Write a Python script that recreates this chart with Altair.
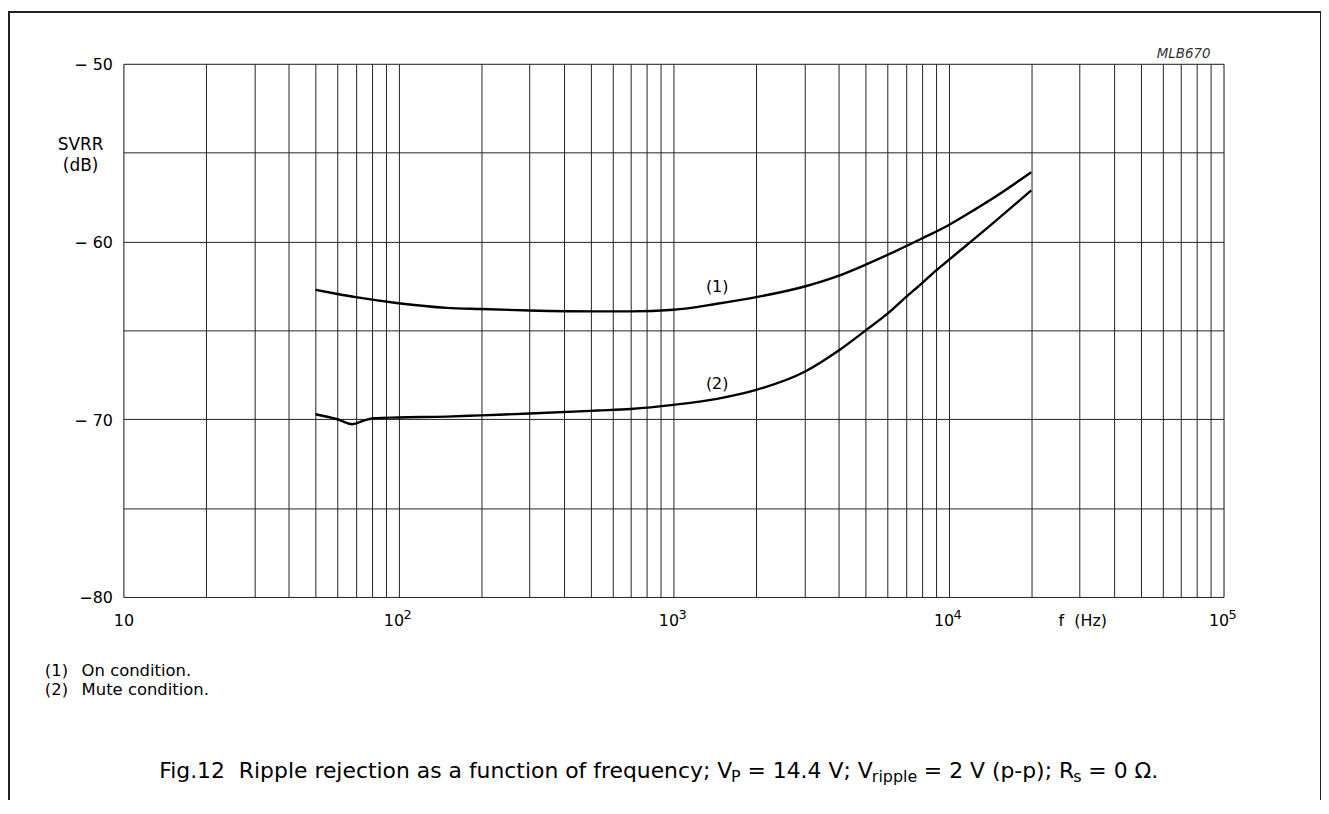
import altair as alt
import pandas as pd

# ---------------- data ----------------
freq_on = [50, 60, 70, 100, 150, 200, 300, 527, 700, 1000, 1440, 2000, 3000, 4000,
           5000, 6400, 8000, 10000, 12500, 14130, 20000]
svrr_on = [-62.72, -62.95, -63.13, -63.47, -63.73, -63.80, -63.88, -63.93, -63.93, -63.84,
           -63.50, -63.13, -62.53, -61.92, -61.30, -60.55, -59.83, -59.08, -58.19, -57.68, -56.10]

freq_mute = [50, 60, 68, 75, 82, 100, 150, 200, 300, 527, 700, 1000, 1440, 2000, 3000,
             4000, 5000, 6000, 7000, 8000, 9000, 10000, 14130, 20000]
svrr_mute = [-69.72, -70.00, -70.28, -70.07, -69.94, -69.90, -69.85, -69.78, -69.68, -69.51,
             -69.42, -69.19, -68.85, -68.35, -67.33, -66.12, -65.00, -64.06, -63.13, -62.35,
             -61.64, -61.05, -59.12, -57.12]

curve_label_text = ["(1)", "(2)"]
curve_label_f = [1442, 1442]
curve_label_db = [-62.57, -67.99]

x_grid_values = [m * 10 ** e for e in range(1, 5) for m in range(1, 10)] + [100000]
x_tick_labels = {10: "10", 100: "10", 1000: "10", 10000: "10", 100000: "10"}
x_exp_f = [100, 1000, 10000, 100000]
x_exp_text = ["2", "3", "4", "5"]
y_grid_values = [-80, -75, -70, -65, -60, -55, -50]
y_tick_labels = {-50: "\u2212 50", -60: "\u2212 60", -70: "\u2212 70", -80: "\u221280"}

legend_lines = [("(1)", "On condition."), ("(2)", "Mute condition.")]
caption_parts = [
    ("Fig.12  Ripple rejection as a function of frequency; V", "main"),
    ("P", "sub"),
    (" = 14.4 V; V", "main"),
    ("ripple", "sub"),
    (" = 2 V (p-p); R", "main"),
    ("s", "sub"),
    (" = 0 \u03a9.", "main"),
]

# ---------------- layout ----------------
FONT = "DejaVu Sans"
W, H = 1106, 536
PAD = {"left": 116, "top": 54, "right": 98, "bottom": 202}

# approximate DejaVu Sans advance widths (em) for caption layout
DJV = {" ": .318, "\u00a0": .318, "(": .390, ")": .390, "-": .361, ".": .318, ";": .337,
       "=": .838, "F": .575, "P": .603, "R": .695, "V": .684, "a": .613, "c": .550,
       "e": .615, "f": .352, "g": .635, "i": .278, "j": .278, "l": .278, "n": .634,
       "o": .612, "p": .635, "q": .635, "r": .411, "s": .521, "t": .392, "u": .634,
       "y": .592, "\u03a9": .765}
for d in "0123456789":
    DJV[d] = .636


def tw(s, size):
    return sum(DJV.get(c, 0.6) for c in s) * size * 0.993


def nb(s):
    return s.replace(" ", "\u00a0")


one = alt.Data(values=[{"k": 1}])


def label(text, x, y, size=16, align="left", baseline="alphabetic", style="normal", color="black"):
    return alt.Chart(one).mark_text(
        text=text, font=FONT, fontSize=size, align=align, baseline=baseline,
        fontStyle=style, color=color
    ).encode(x=alt.value(x), y=alt.value(y))


def expr_from(d):
    parts = [f"datum.value == {k} ? '{v}'" for k, v in d.items()]
    return " : ".join(parts) + " : ''"


df = pd.concat([
    pd.DataFrame({"f": freq_on, "db": svrr_on, "series": "on"}),
    pd.DataFrame({"f": freq_mute, "db": svrr_mute, "series": "mute"}),
])
lab_df = pd.DataFrame({"f": curve_label_f, "db": curve_label_db, "txt": curve_label_text})
exp_df = pd.DataFrame({"f": x_exp_f, "txt": x_exp_text})

X_ENC = alt.X(
    "f:Q",
    scale=alt.Scale(type="log", domain=[10, 100000], nice=False),
    axis=alt.Axis(
        values=x_grid_values, labelExpr=expr_from(x_tick_labels), grid=True,
        gridColor="#222", gridWidth=1, ticks=False, tickSize=0, domain=False,
        labelFont=FONT, labelFontSize=16, labelColor="black", labelPadding=29,
        labelBaseline="alphabetic", labelFlush=False, labelOverlap=False,
        labelOffset={"condition": {"test": "datum.value <= 10", "value": 0}, "value": -5},
        title="f\u00a0\u00a0(Hz)", titleX=964, titleY=29, titleBaseline="alphabetic",
        titleAlign="center", titleFont=FONT, titleFontSize=16, titleFontWeight="normal",
        titleColor="black",
    ),
)
Y_ENC = alt.Y(
    "db:Q",
    scale=alt.Scale(domain=[-80, -50], nice=False, zero=False),
    axis=alt.Axis(
        values=y_grid_values, labelExpr=expr_from(y_tick_labels), grid=True,
        gridColor="#222", gridWidth=1, ticks=False, tickSize=0, domain=False,
        labelFont=FONT, labelFontSize=16, labelColor="black", labelPadding=11,
        labelBaseline="middle", labelOffset=1, labelOverlap=False, title=None,
    ),
)

lines = alt.Chart(df).mark_line(color="black", strokeWidth=2.4, interpolate="monotone").encode(
    x=X_ENC, y=Y_ENC, detail="series:N"
)
curve_labels = alt.Chart(lab_df).mark_text(
    font=FONT, fontSize=16, align="center", baseline="middle", color="black"
).encode(x=X_ENC, y=Y_ENC, text="txt:N")
exponents = alt.Chart(exp_df).mark_text(
    font=FONT, fontSize=13, align="left", baseline="alphabetic", color="black", dx=5
).encode(x=X_ENC, y=alt.value(558), text="txt:N")

frame = alt.Chart(one).mark_rect(filled=False, stroke="#222", strokeWidth=2).encode(
    x=alt.value(-115), x2=alt.value(1204), y=alt.value(-52), y2=alt.value(780)
)

layers = [frame, lines, curve_labels, exponents]

# texts outside the plot
layers.append(label("MLB670", 1093, -6, size=13.5, align="right", style="italic", color="#333"))
layers.append(label("SVRR", -43, 87, size=17, align="center"))
layers.append(label("(dB)", -43, 108, size=17, align="center"))
for i, (num, txt) in enumerate(legend_lines):
    yy = 615 + 20 * i
    layers.append(label(num, -79, yy, size=16.5))
    layers.append(label(txt, -42, yy, size=16.5))

MAIN, SUB = 22, 16
cx = 36
for txt, kind in caption_parts:
    size = MAIN if kind == "main" else SUB
    yb = 718 if kind == "main" else 722
    lead = len(txt) - len(txt.lstrip(" "))
    cx += tw(" " * lead, size)
    body = txt.lstrip(" ")
    layers.append(label(nb(body), cx, yb, size=size))
    cx += tw(body, size)

chart = alt.layer(*layers).properties(
    width=W, height=H, padding=PAD, autosize=alt.AutoSizeParams(type="none"),
    background="white",
).configure_view(stroke="#333", strokeWidth=1).configure(font=FONT)

chart.save("out.html", embed_options={"renderer": "svg", "actions": False})
